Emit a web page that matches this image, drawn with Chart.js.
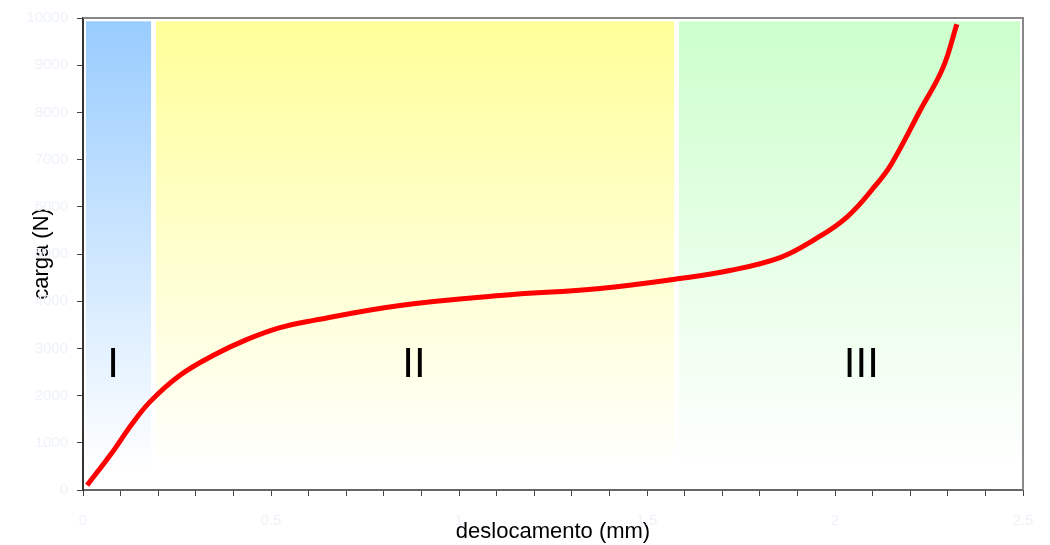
<!DOCTYPE html>
<html>
<head>
<meta charset="utf-8">
<script src="https://cdn.jsdelivr.net/npm/chart.js@4/dist/chart.umd.min.js"></script>
<style>
  html, body { margin: 0; padding: 0; background: #fff; }
  #wrap { width: 1050px; height: 545px; }
</style>
</head>
<body>
<div id="wrap"><canvas id="chart" width="1050" height="545"></canvas></div>
<script>
// displacement (mm) and load (N)
const deslocamento = [0.011, 0.08, 0.125, 0.178, 0.258, 0.347, 0.435, 0.524, 0.613, 0.843, 1.109, 1.375, 1.588, 1.72, 1.854, 1.941, 2.031, 2.111, 2.15, 2.226, 2.287, 2.324];
const carga = [100, 820, 1340, 1867, 2431, 2854, 3185, 3440, 3594, 3910, 4120, 4270, 4480, 4650, 4925, 5285, 5778, 6484, 6907, 8034, 8943, 9870];

// shaded zones I, II, III
const zoneLabels = ['I', 'II', 'III'];
const zoneStart = [0.008, 0.194, 1.585];
const zoneEnd = [0.181, 1.572, 2.492];
const zoneColors = ['#99ccff', '#ffff99', '#ccffcc'];
const zoneLabelX = [0.08, 0.88, 2.07];
const zoneTop = 9930;
const zoneBottom = 420;
const zoneLabelY = 2640;

const xTicks = [0, 0.5, 1, 1.5, 2, 2.5];
const yTicks = [0, 1000, 2000, 3000, 4000, 5000, 6000, 7000, 8000, 9000, 10000];

const faint = '#eef2f9';

const zonesPlugin = {
  id: 'zones',
  beforeDatasetsDraw(chart) {
    const { ctx, scales: { x, y } } = chart;
    const top = y.getPixelForValue(zoneTop);
    const bottom = y.getPixelForValue(zoneBottom);
    ctx.save();
    zoneStart.forEach((s, i) => {
      const left = x.getPixelForValue(s);
      const right = x.getPixelForValue(zoneEnd[i]);
      const grad = ctx.createLinearGradient(0, top, 0, bottom);
      grad.addColorStop(0, zoneColors[i]);
      grad.addColorStop(1, '#ffffff');
      ctx.fillStyle = grad;
      ctx.fillRect(left, top, right - left, bottom - top);
    });
    ctx.fillStyle = '#000';
    ctx.font = '42px "Liberation Sans", Arial, sans-serif';
    ctx.textAlign = 'center';
    ctx.textBaseline = 'middle';
    zoneLabels.forEach((t, i) => {
      ctx.fillText(t, x.getPixelForValue(zoneLabelX[i]), y.getPixelForValue(zoneLabelY));
    });
    ctx.restore();
  },
  afterDraw(chart) {
    const { ctx, chartArea: a } = chart;
    ctx.save();
    ctx.strokeStyle = '#888';
    ctx.lineWidth = 2;
    ctx.beginPath();
    ctx.moveTo(a.left, a.top);
    ctx.lineTo(a.right, a.top);
    ctx.lineTo(a.right, a.bottom);
    ctx.stroke();
    ctx.restore();
  }
};

new Chart(document.getElementById('chart'), {
  type: 'line',
  data: {
    datasets: [{
      data: deslocamento.map((d, i) => ({ x: d, y: carga[i] })),
      borderColor: '#ff0000',
      borderWidth: 5,
      pointRadius: 0,
      tension: 0.4,
      fill: false
    }]
  },
  options: {
    responsive: false,
    animation: false,
    layout: { padding: { top: 17, right: 27, left: 0, bottom: 0 } },
    plugins: {
      legend: { display: false },
      tooltip: { enabled: false }
    },
    scales: {
      x: {
        type: 'linear',
        min: 0,
        max: 2.5,
        afterFit: (s) => { s.height = 55; },
        afterBuildTicks: (s) => {
          const t = [];
          for (let i = 0; i <= 25; i++) t.push({ value: i / 10 });
          s.ticks = t;
        },
        grid: {
          display: true,
          drawOnChartArea: false,
          drawTicks: true,
          tickLength: 6,
          color: '#444'
        },
        border: { color: '#666', width: 2 },
        ticks: {
          color: faint,
          font: { family: '"Liberation Sans", Arial', size: 15 },
          padding: 16,
          maxRotation: 0,
          autoSkip: false,
          callback: (v) => {
            const m = xTicks.find(t => Math.abs(t - v) < 1e-6);
            return m === undefined ? '' : String(m);
          }
        },
        title: {
          display: true,
          text: 'deslocamento (mm)',
          color: '#000',
          font: { family: '"Liberation Sans", Arial', size: 22 },
          padding: { top: 0, bottom: 0 }
        }
      },
      y: {
        min: 0,
        max: 10000,
        afterFit: (s) => { s.width = 83; },
        afterBuildTicks: (s) => { s.ticks = yTicks.map(v => ({ value: v })); },
        grid: {
          display: true,
          drawOnChartArea: false,
          drawTicks: true,
          tickLength: 6,
          color: '#444'
        },
        border: { color: '#333', width: 2 },
        ticks: {
          color: faint,
          font: { family: '"Liberation Sans", Arial', size: 15 },
          padding: 9,
          callback: (v) => String(v)
        },
        title: {
          display: true,
          text: 'carga (N)',
          color: '#000',
          font: { family: '"Liberation Sans", Arial', size: 22 },
          padding: { top: 29, bottom: 0 }
        }
      }
    }
  },
  plugins: [zonesPlugin]
});
</script>
</body>
</html>
